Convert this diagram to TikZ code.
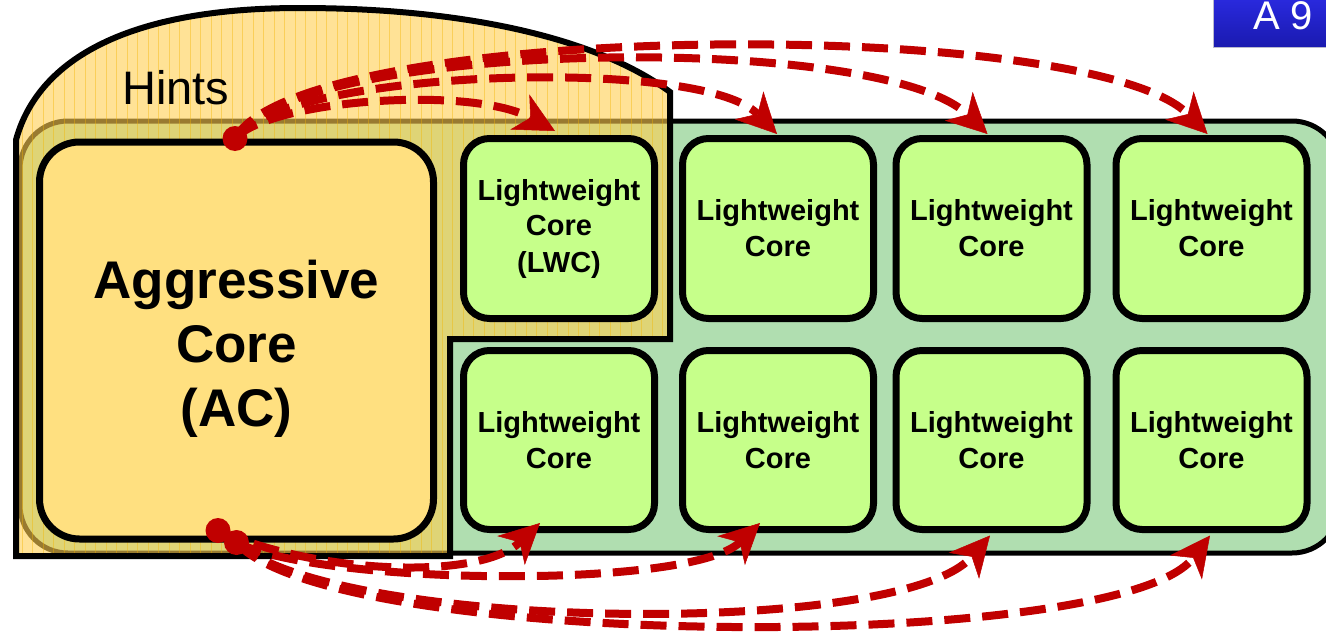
\documentclass[tikz,border=0pt]{standalone}
\usepackage{fontspec}
\setmainfont{Liberation Sans}
\usetikzlibrary{arrows.meta,calc}

\definecolor{acyellow}{RGB}{255,224,128}
\definecolor{lwcgreen}{RGB}{198,255,138}
\definecolor{chipgreen}{RGB}{176,222,176}
\definecolor{hintyellow}{RGB}{255,206,80}
\definecolor{stripe}{RGB}{245,180,0}
\definecolor{hintred}{RGB}{192,0,0}
\definecolor{tagtop}{RGB}{44,44,230}
\definecolor{tagbottom}{RGB}{26,26,175}

\begin{document}
\begin{tikzpicture}[x=1pt,y=-1pt,
  core/.style={draw=black,line width=7pt,rounded corners=26pt,inner sep=0pt,
    align=center,font=\bfseries\fontsize{29}{36}\selectfont},
  lwc/.style={core,fill=lwcgreen,minimum width=191pt,minimum height=180pt},
  hintarrow/.style={draw=hintred,line width=8pt,dash pattern=on 26pt off 12pt,
    -{Stealth[length=40pt,width=40pt,inset=12pt,line width=0.5pt]}},
  hintdot/.style={circle,fill=hintred,minimum size=25pt,inner sep=0pt}]

\useasboundingbox (0,0) rectangle (1326,637);

% chip with the lightweight cores
\path[draw=black,line width=5pt,fill=chipgreen,rounded corners=48pt]
  (20,121) rectangle (1340,553);

% hint region around the aggressive core
\fill[hintyellow,fill opacity=0.6]
  (16,140) .. controls (35,70) and (110,8) .. (300,8)
  .. controls (470,8) and (600,40) .. (670,92)
  -- (670,339) -- (450,339) -- (450,556) -- (16,556) -- cycle;
\begin{scope}
  \clip (16,140) .. controls (35,70) and (110,8) .. (300,8)
    .. controls (470,8) and (600,40) .. (670,92)
    -- (670,339) -- (450,339) -- (450,556) -- (16,556) -- cycle;
  \foreach \x in {22,32.5,...,670}
    \draw[stripe,line width=0.9pt,opacity=0.4] (\x,0) -- (\x,560);
\end{scope}
\draw[line width=6pt,line join=miter]
  (16,140) .. controls (35,70) and (110,8) .. (300,8)
  .. controls (470,8) and (600,40) .. (670,92)
  -- (670,339) -- (450,339) -- (450,556) -- (16,556) -- cycle;
\node[anchor=base west,inner sep=0pt,font=\fontsize{47}{56}\selectfont]
  (hints) at (122,104) {Hints};

% slide tag
\shade[top color=tagtop,bottom color=tagbottom,draw={rgb,255:red,185;green,185;blue,205},line width=1pt]
  (1213,-10) rectangle (1340,47);
\node[anchor=base west,inner sep=0pt,text=white,font=\fontsize{40}{48}\selectfont]
  (tag) at (1253,29) {A 9};

% cores
\node[core,fill=acyellow,minimum width=394pt,minimum height=397pt,rounded corners=40pt]
  (ac) at (236.5,340.5) {};
\node[align=center,inner sep=0pt,font=\bfseries\fontsize{53}{64}\selectfont]
  (aclabel) at ($(ac.center)+(0,8)$) {Aggressive\\Core\\(AC)};

\node[lwc] (c1) at (559,228.5) {Lightweight\\Core\\(LWC)};
\node[lwc] (c2) at (778,228.5) {Lightweight\\Core};
\node[lwc] (c3) at (991.5,228.5) {Lightweight\\Core};
\node[lwc] (c4) at (1211.5,228.5) {Lightweight\\Core};
\node[lwc,minimum height=179pt] (c5) at (559,440) {Lightweight\\Core};
\node[lwc,minimum height=179pt] (c6) at (778,440) {Lightweight\\Core};
\node[lwc,minimum height=179pt] (c7) at (991.5,440) {Lightweight\\Core};
\node[lwc,minimum height=179pt] (c8) at (1211.5,440) {Lightweight\\Core};

% hint sources
\coordinate (top) at ($(ac.north)+(-1.5,0)$);
\coordinate (bot1) at ($(ac.south)+(-18.5,-12)$);
\coordinate (bot2) at (ac.south);

% hints sent to the top row
\draw[hintarrow] (top) .. controls (270,100) and (470,85) .. ($(c1.north)+(-4,-4)$);
\draw[hintarrow] (top) .. controls (280,70) and (700,55) .. ($(c2.north)+(-1,-1)$);
\draw[hintarrow] (top) .. controls (290,40) and (880,30) .. ($(c3.north)+(-4,-1)$);
\draw[hintarrow] (top) .. controls (300,20) and (1090,15) .. ($(c4.north)+(-4,-1)$);

% hints sent to the bottom row
\draw[hintarrow] (bot1) .. controls (320,575) and (480,580) .. ($(c5.south)+(-19,-10)$);
\draw[hintarrow] (bot2) .. controls (320,585) and (690,590) .. ($(c6.south)+(-18,-10)$);
\draw[hintarrow] (bot2) .. controls (330,630) and (900,640) .. ($(c7.south)+(-1.5,2.5)$);
\draw[hintarrow] (bot2) .. controls (330,650) and (1120,655) .. ($(c8.south)+(-1.5,2.5)$);

\node[hintdot] (dtop) at (top) {};
\node[hintdot] (dbot1) at (bot1) {};
\node[hintdot] (dbot2) at (bot2) {};
\end{tikzpicture}
\end{document}
